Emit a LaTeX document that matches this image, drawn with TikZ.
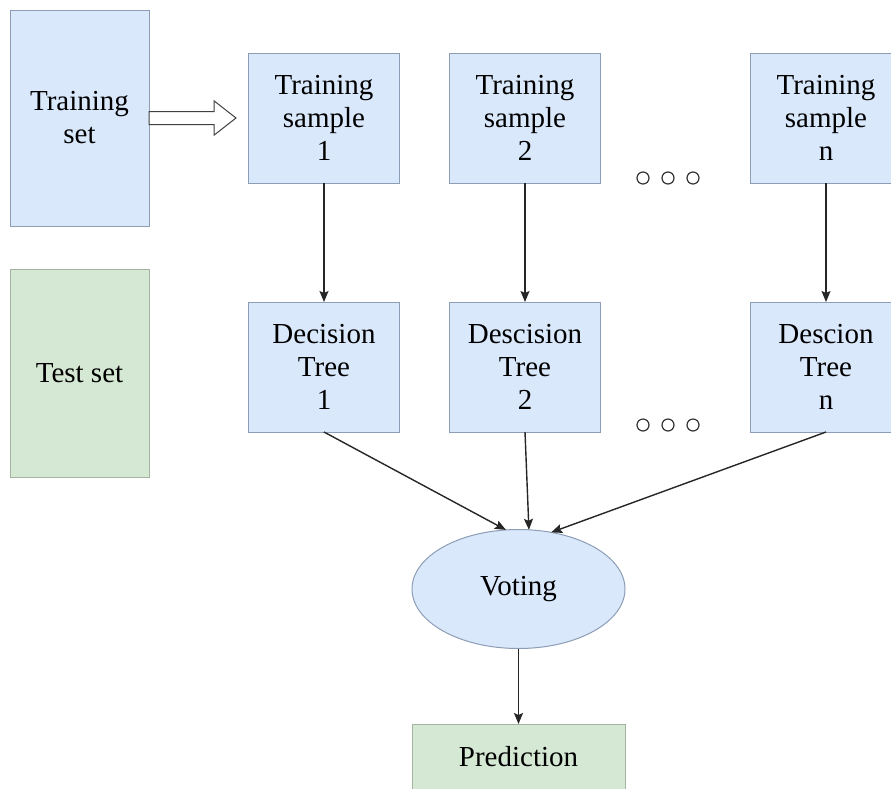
\documentclass[tikz,border=0pt]{standalone}
\usepackage{fontspec}
\setmainfont{Liberation Serif}
\usetikzlibrary{arrows.meta,positioning,shapes.geometric,shapes.arrows}
\definecolor{bfill}{HTML}{DAE8FC}
\definecolor{bline}{HTML}{8C9DB5}
\definecolor{gfill}{HTML}{D5E8D4}
\definecolor{gline}{HTML}{A3B59E}

\begin{document}
\begin{tikzpicture}[x=1pt, y=-1pt, font=\fontsize{29}{33}\selectfont, node distance=50pt,
  bcell/.style={draw=bline, fill=bfill, line width=1pt, align=center, inner sep=0pt, outer sep=0pt,
    minimum width=151pt, minimum height=130pt},
  setcell/.style={draw=#1line, fill=#1fill, line width=1pt, align=center, inner sep=0pt, outer sep=0pt,
    minimum width=139pt},
  bigarrow/.style={single arrow, draw=black!75, fill=white, line width=1pt, inner xsep=0pt, inner ysep=6pt,
    outer sep=0pt, minimum height=87pt, single arrow head extend=10.5pt, single arrow tip angle=76},
  odot/.style={circle, draw=black!80, line width=1.2pt, inner sep=0pt, minimum size=12pt},
  a/.style={draw=black!85, line width=1.4pt, -{Stealth[length=11pt, width=9pt, inset=2pt]}}]
  \useasboundingbox (0,0) rectangle (891,788);
  % input sets
  \node[setcell=b, minimum height=216pt] (tset) at (79.5,118) {Training\\set};
  \node[setcell=g, minimum height=208pt] (test) at (79.5,373) {Test set};
  \node[bigarrow, anchor=tail] (arr) at (tset.east) {};
  % samples and trees
  \node[bcell] (s1) at (324,118) {Training\\sample\\1};
  \node[bcell, right=of s1] (s2) {Training\\sample\\2};
  \node[bcell, right=150pt of s2] (sn) {Training\\sample\\n};
  \node[bcell, below=119pt of s1] (t1) {Decision\\Tree\\1};
  \node[bcell, below=119pt of s2] (t2) {Descision\\Tree\\2};
  \node[bcell, below=119pt of sn] (tn) {Descion\\Tree\\n};
  \foreach \i in {0,1,2} {
    \node[odot] (da\i) at (643+25*\i,178) {};
    \node[odot] (db\i) at (643+25*\i,425) {};
  }
  % voting
  \node[ellipse, draw=bline, fill=bfill, line width=1pt, inner sep=0pt, outer sep=0pt,
    minimum width=213pt, minimum height=119pt] (vote) at (518.5,589) {Voting};
  \node[setcell=g, minimum width=213pt, minimum height=66pt] (pred) at (518.5,757) {Prediction};
  \draw[a] (s1) -- (t1); \draw[a] (s2) -- (t2); \draw[a] (sn) -- (tn);
  \draw[a] (t1.south) -- (vote.102);
  \draw[a] (t2.south) -- (vote.80);
  \draw[a] (tn.south) -- (vote.60);
  \draw[a] (vote) -- (pred);
\end{tikzpicture}
\end{document}
